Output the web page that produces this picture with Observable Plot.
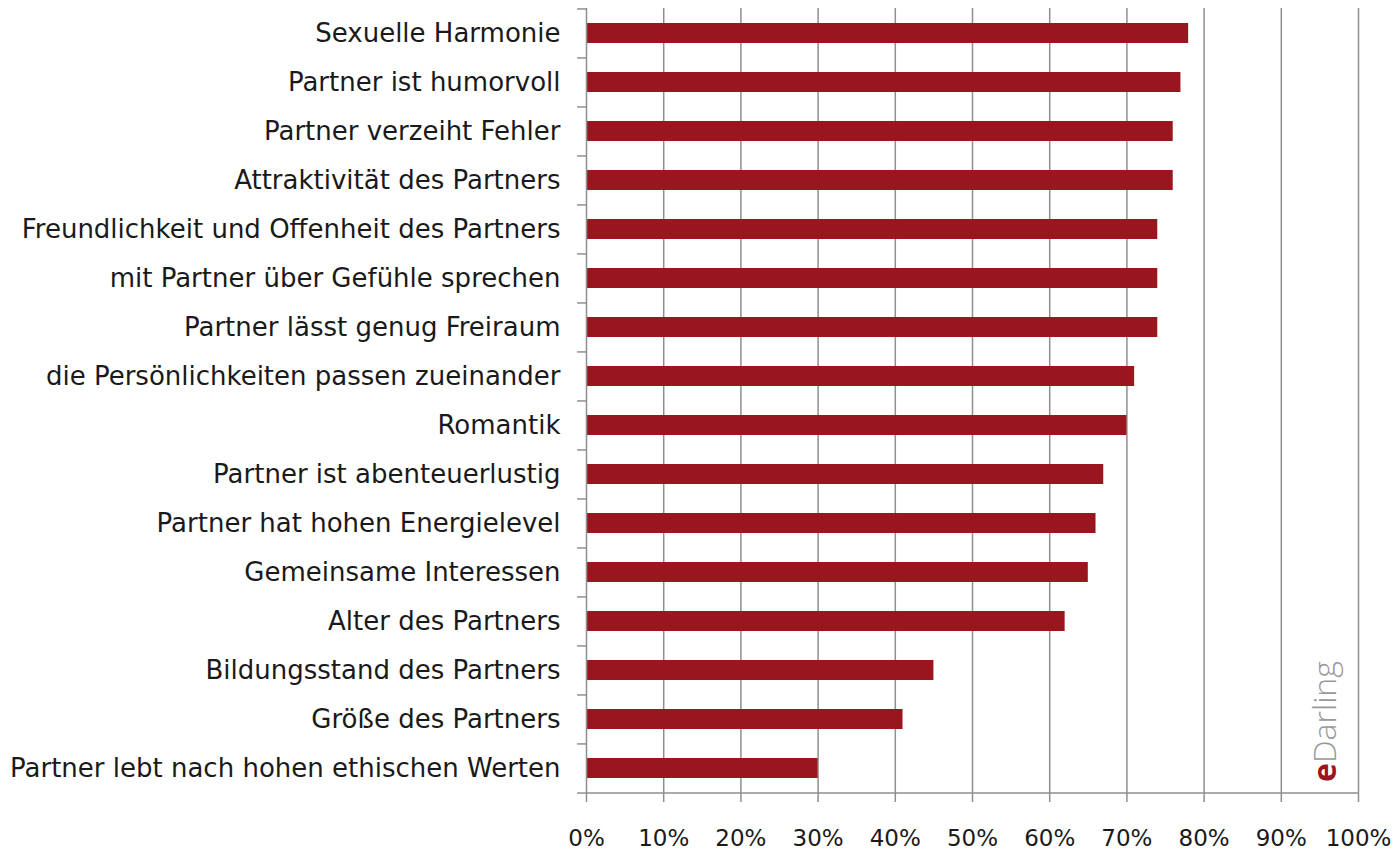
<!DOCTYPE html>
<html>
<head>
<meta charset="utf-8">
<script src="https://cdn.jsdelivr.net/npm/d3@7"></script>
<script src="https://cdn.jsdelivr.net/npm/@observablehq/plot@0.6"></script>
<style>
  html, body { margin: 0; padding: 0; background: #fff; }
  #chart svg { display: block; }
</style>
</head>
<body>
<div id="chart"></div>
<script>
const categories = [
  "Sexuelle Harmonie",
  "Partner ist humorvoll",
  "Partner verzeiht Fehler",
  "Attraktivität des Partners",
  "Freundlichkeit und Offenheit des Partners",
  "mit Partner über Gefühle sprechen",
  "Partner lässt genug Freiraum",
  "die Persönlichkeiten passen zueinander",
  "Romantik",
  "Partner ist abenteuerlustig",
  "Partner hat hohen Energielevel",
  "Gemeinsame Interessen",
  "Alter des Partners",
  "Bildungsstand des Partners",
  "Größe des Partners",
  "Partner lebt nach hohen ethischen Werten"
];
const values = [78, 77, 76, 76, 74, 74, 74, 71, 70, 67, 66, 65, 62, 45, 41, 30];
const xTicks = [0, 10, 20, 30, 40, 50, 60, 70, 80, 90, 100];

const data = categories.map((c, i) => ({category: c, value: values[i]}));

const W = 1393, H = 850;
const mt = 8, mb = 56, ml = 586, mr = 35;
const step = (H - mt - mb) / categories.length;
const gridColor = "#8f8f8f";
const font = "'DejaVu Sans', sans-serif";

const chart = Plot.plot({
  width: W,
  height: H,
  marginTop: mt,
  marginBottom: mb,
  marginLeft: ml,
  marginRight: mr,
  style: {fontFamily: font, fontSize: "24px", color: "#1a1a1a", background: "#fff"},
  x: {domain: [0, 100], label: null},
  y: {domain: categories, label: null, padding: 0.59, paddingOuter: 0.295},
  marks: [
    Plot.gridX(xTicks.filter(d => d > 0), {stroke: gridColor, strokeOpacity: 1, strokeWidth: 1.5}),
    Plot.barX(data, {y: "category", x: "value", fill: "#9a161f"}),
    // left axis line
    Plot.ruleX([0], {stroke: gridColor, strokeWidth: 1.5}),
    // bottom axis line
    Plot.ruleY([categories[categories.length - 1]], {x1: 0, x2: 100, dy: step / 2, stroke: gridColor, strokeWidth: 1.5}),
    // left category boundary ticks
    Plot.ruleY(categories, {x1: -1.15, x2: 0, dy: -step / 2, stroke: gridColor, strokeWidth: 1.5}),
    Plot.ruleY([categories[categories.length - 1]], {x1: -1.15, x2: 0, dy: step / 2, stroke: gridColor, strokeWidth: 1.5}),
    Plot.axisY({tickSize: 0, tickPadding: 26, fontSize: 26, anchor: "left"}),
    Plot.axisX({ticks: xTicks, tickFormat: d => d + "%", tickSize: 8, tickPadding: 27, stroke: gridColor, strokeWidth: 1.5, fontSize: 23, anchor: "bottom"})
  ]
});

document.getElementById("chart").appendChild(chart);

// eDarling watermark
const svg = d3.select(chart);
const wm = svg.append("text")
  .attr("transform", "translate(1336,782) rotate(-90)")
  .attr("font-family", "'Open Sans', sans-serif")
  .attr("font-size", 32)
  .attr("text-anchor", "start");
wm.append("tspan").attr("fill", "#9a161f").attr("font-weight", "bold").text("e");
wm.append("tspan").attr("fill", "#9a9a9a").attr("font-weight", 300).text("Darling");
</script>
</body>
</html>
